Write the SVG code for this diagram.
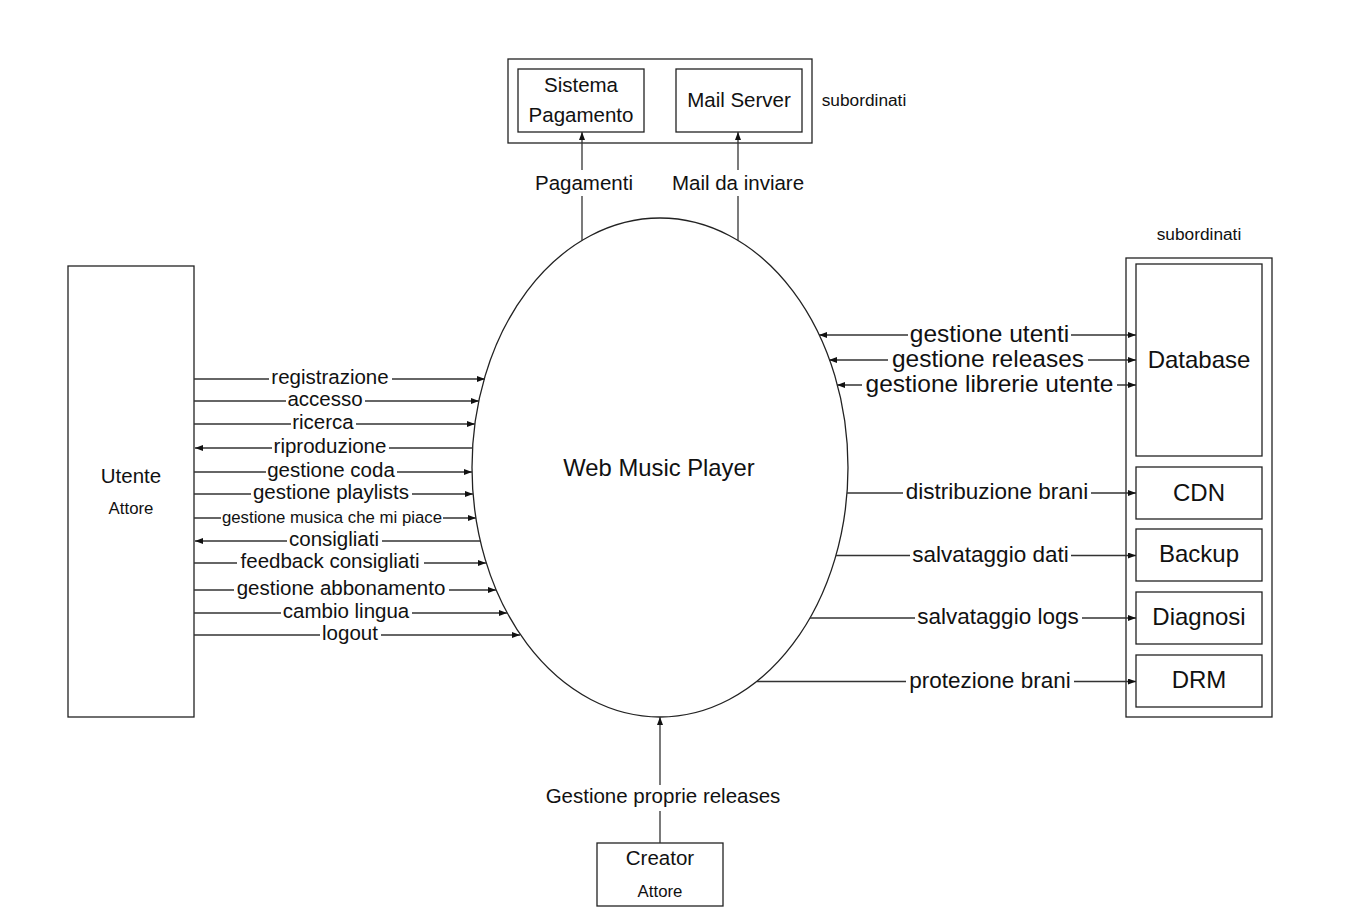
<svg xmlns="http://www.w3.org/2000/svg" width="1354" height="916" viewBox="0 0 1354 916">
<style>
text{font-family:"Liberation Sans",Arial,Helvetica,sans-serif;fill:#111;text-anchor:middle}
.box{fill:#fff;stroke:#222;stroke-width:1.3}
.ln{fill:none;stroke:#333;stroke-width:1.3}
.lb{fill:#fff;stroke:none}
.f20{font-size:20.5px}
.f22{font-size:22.5px}
.f24{font-size:24.5px}
.fs{font-size:16.8px}
.fsub{font-size:17.3px}
</style>
<defs>
<marker id="ar" viewBox="0 0 8 6" refX="8" refY="3" markerWidth="8" markerHeight="6" markerUnits="userSpaceOnUse" orient="auto-start-reverse">
<path d="M0,0 L8,3 L0,6 z" fill="#111"/>
</marker>
</defs>
<rect width="1354" height="916" fill="#fff"/>

<g id="subordinati-top">
<rect class="box" x="508" y="59" width="304" height="84"/>
<text class="fsub" x="864" y="106">subordinati</text>
</g>
<g id="sistema-pagamento">
<rect class="box" x="518" y="69" width="126" height="63"/>
<text class="f20" x="581" y="92">Sistema</text>
<text class="f20" x="581" y="122">Pagamento</text>
</g>
<g id="mail-server">
<rect class="box" x="676" y="69" width="126" height="63"/>
<text class="f20" x="739" y="107">Mail Server</text>
</g>

<g id="web-music-player">
<ellipse cx="660" cy="467.5" rx="188" ry="249.5" fill="#fff" stroke="#222" stroke-width="1.3"/>
<text x="659" y="476" style="font-size:23.8px">Web Music Player</text>
</g>

<g id="utente">
<rect class="box" x="68" y="266" width="126" height="451"/>
<text class="f20" x="131" y="483">Utente</text>
<text class="fs" x="131" y="514">Attore</text>
</g>

<g id="creator">
<rect class="box" x="597" y="843" width="126" height="63"/>
<text class="f20" x="660" y="865">Creator</text>
<text class="fs" x="660" y="897">Attore</text>
</g>

<g id="subordinati-right">
<rect class="box" x="1126" y="258" width="146" height="459"/>
<text class="fsub" x="1199" y="240">subordinati</text>
</g>
<g id="database">
<rect class="box" x="1136" y="264" width="126" height="192"/>
<text x="1199" y="368" style="font-size:24px">Database</text>
</g>
<g id="cdn">
<rect class="box" x="1136" y="467" width="126" height="52"/>
<text x="1199" y="501" style="font-size:24px">CDN</text>
</g>
<g id="backup">
<rect class="box" x="1136" y="529" width="126" height="52"/>
<text x="1199" y="562" style="font-size:24px">Backup</text>
</g>
<g id="diagnosi">
<rect class="box" x="1136" y="592" width="126" height="52"/>
<text x="1199" y="625" style="font-size:24px">Diagnosi</text>
</g>
<g id="drm">
<rect class="box" x="1136" y="655" width="126" height="52"/>
<text x="1199" y="688" style="font-size:24px">DRM</text>
</g>

<g id="connectors">
<!-- top -->
<line class="ln" x1="582" y1="240" x2="582" y2="132" marker-end="url(#ar)"/>
<line class="ln" x1="738" y1="240" x2="738" y2="132" marker-end="url(#ar)"/>
<!-- bottom -->
<line class="ln" x1="660" y1="843" x2="660" y2="717" marker-end="url(#ar)"/>
<!-- left -->
<line class="ln" x1="194" y1="379" x2="485" y2="379" marker-end="url(#ar)"/>
<line class="ln" x1="194" y1="401" x2="479" y2="401" marker-end="url(#ar)"/>
<line class="ln" x1="194" y1="424" x2="475" y2="424" marker-end="url(#ar)"/>
<line class="ln" x1="473" y1="448" x2="195" y2="448" marker-end="url(#ar)"/>
<line class="ln" x1="194" y1="472" x2="472" y2="472" marker-end="url(#ar)"/>
<line class="ln" x1="194" y1="494" x2="473" y2="494" marker-end="url(#ar)"/>
<line class="ln" x1="194" y1="518" x2="476" y2="518" marker-end="url(#ar)"/>
<line class="ln" x1="480" y1="541" x2="195" y2="541" marker-end="url(#ar)"/>
<line class="ln" x1="194" y1="563" x2="486" y2="563" marker-end="url(#ar)"/>
<line class="ln" x1="194" y1="590" x2="496" y2="590" marker-end="url(#ar)"/>
<line class="ln" x1="194" y1="613" x2="507" y2="613" marker-end="url(#ar)"/>
<line class="ln" x1="194" y1="635" x2="520" y2="635" marker-end="url(#ar)"/>
<!-- right -->
<line class="ln" x1="819" y1="335" x2="1136" y2="335" marker-start="url(#ar)" marker-end="url(#ar)"/>
<line class="ln" x1="829" y1="360" x2="1136" y2="360" marker-start="url(#ar)" marker-end="url(#ar)"/>
<line class="ln" x1="837" y1="385" x2="1136" y2="385" marker-start="url(#ar)" marker-end="url(#ar)"/>
<line class="ln" x1="847" y1="493" x2="1136" y2="493" marker-end="url(#ar)"/>
<line class="ln" x1="836" y1="555.5" x2="1136" y2="555.5" marker-end="url(#ar)"/>
<line class="ln" x1="810" y1="618" x2="1136" y2="618" marker-end="url(#ar)"/>
<line class="ln" x1="757" y1="681.5" x2="1136" y2="681.5" marker-end="url(#ar)"/>

<!-- label backgrounds -->
<rect class="lb" x="534" y="170" width="102" height="26"/>
<rect class="lb" x="670" y="170" width="136" height="26"/>
<rect class="lb" x="543" y="785" width="242" height="26"/>
<rect class="lb" x="269" y="370" width="123" height="18"/>
<rect class="lb" x="286" y="392" width="79" height="18"/>
<rect class="lb" x="291" y="415" width="65" height="18"/>
<rect class="lb" x="272" y="439" width="117" height="18"/>
<rect class="lb" x="266" y="463" width="131" height="18"/>
<rect class="lb" x="251" y="485" width="161" height="18"/>
<rect class="lb" x="221" y="511" width="222" height="14"/>
<rect class="lb" x="287" y="532" width="95" height="18"/>
<rect class="lb" x="237" y="554" width="187" height="18"/>
<rect class="lb" x="234" y="581" width="215" height="18"/>
<rect class="lb" x="281" y="604" width="131" height="18"/>
<rect class="lb" x="320" y="626" width="61" height="18"/>
<rect class="lb" x="908" y="324" width="163" height="22"/>
<rect class="lb" x="888" y="349" width="200" height="22"/>
<rect class="lb" x="862" y="374" width="255" height="22"/>
<rect class="lb" x="903" y="483" width="188" height="20"/>
<rect class="lb" x="910" y="545" width="161" height="20"/>
<rect class="lb" x="915" y="608" width="167" height="20"/>
<rect class="lb" x="906" y="671" width="168" height="20"/>

<!-- labels -->
<text class="f20" x="584" y="190">Pagamenti</text>
<text class="f20" x="738" y="190">Mail da inviare</text>
<text class="f20" x="663" y="803">Gestione proprie releases</text>
<text class="f20" x="330" y="384">registrazione</text>
<text class="f20" x="325" y="406">accesso</text>
<text class="f20" x="323" y="429">ricerca</text>
<text class="f20" x="330" y="453">riproduzione</text>
<text class="f20" x="331" y="477">gestione coda</text>
<text class="f20" x="331" y="499">gestione playlists</text>
<text class="fs" x="332" y="523">gestione musica che mi piace</text>
<text class="f20" x="334" y="546">consigliati</text>
<text class="f20" x="330" y="568">feedback consigliati</text>
<text class="f20" x="341" y="595">gestione abbonamento</text>
<text class="f20" x="346" y="618">cambio lingua</text>
<text class="f20" x="350" y="640">logout</text>
<text class="f24" x="989.5" y="342">gestione utenti</text>
<text class="f24" x="988" y="367">gestione releases</text>
<text class="f24" x="989.5" y="392">gestione librerie utente</text>
<text class="f22" x="997" y="499">distribuzione brani</text>
<text class="f22" x="990.5" y="561.5">salvataggio dati</text>
<text class="f22" x="998" y="624">salvataggio logs</text>
<text class="f22" x="990" y="687.5">protezione brani</text>
</g>
</svg>
